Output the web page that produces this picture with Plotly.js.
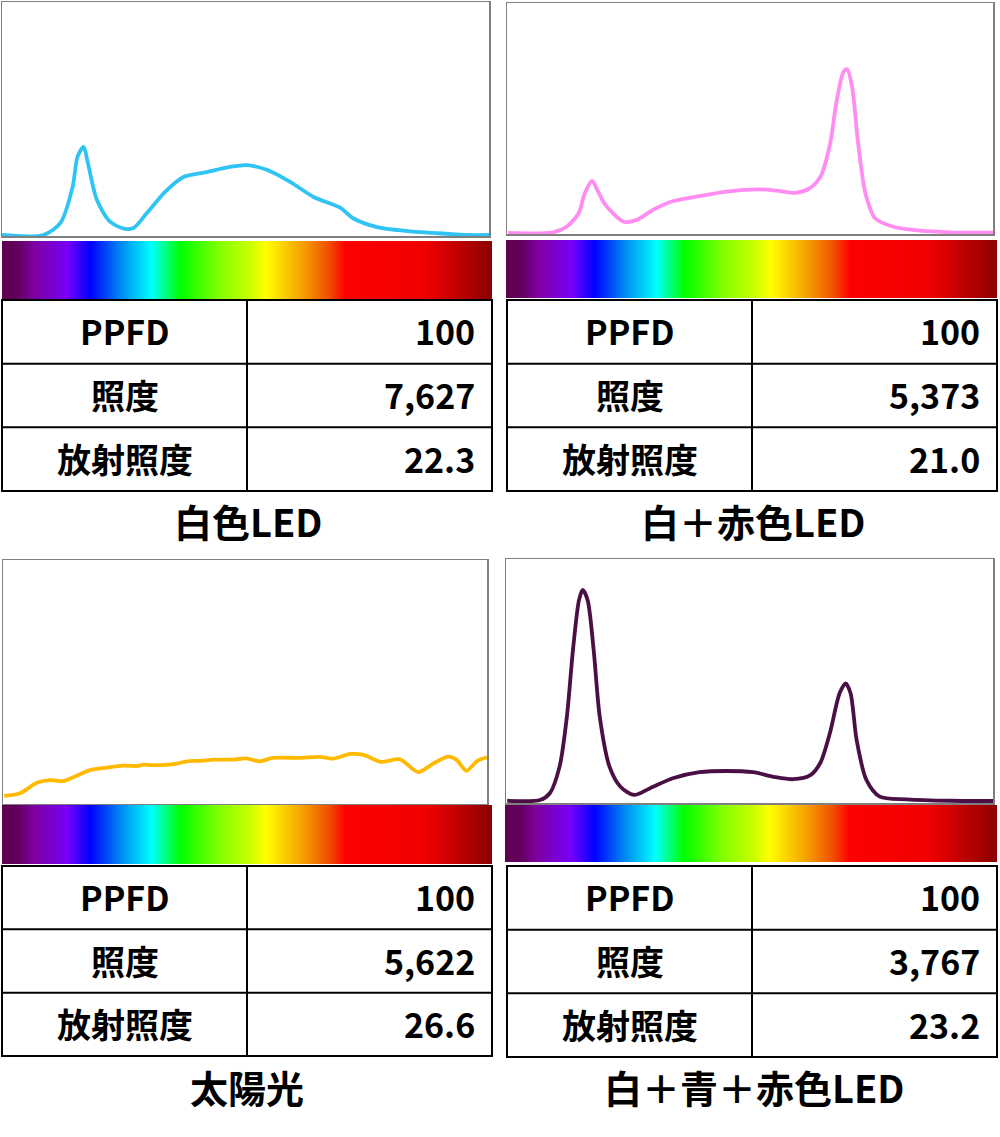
<!DOCTYPE html>
<html>
<head>
<meta charset="utf-8">
<script src="https://cdn.plot.ly/plotly-3.0.1.min.js"></script>
<style>
  html, body { margin: 0; padding: 0; background: #fff; }
  #chart { width: 1000px; height: 1137px; }
</style>
</head>
<body>
<div id="chart"></div>
<script>
// spectra (wavelength nm, relative intensity 0-100 of box height)
const wlWhite = [380, 414, 428, 438, 442, 447, 450, 458, 469, 481, 488, 499, 514, 529, 548, 567, 581, 598, 617, 636, 658, 668, 688, 713, 734, 762, 780];
const spWhite = [0, 0, 5.2, 20.6, 33.5, 37.8, 32.2, 15.0, 5.6, 2.6, 3.0, 9.4, 18.5, 24.9, 27.0, 29.2, 30.0, 27.9, 22.7, 16.3, 11.6, 7.3, 3.4, 1.7, 0.9, 0, 0];

const wlWhiteRed = [381, 418, 429, 439, 444, 450, 455, 461, 476, 487, 500, 517, 539, 561, 586, 602, 618, 629, 638, 646, 651, 657, 660, 664, 669, 675, 683, 698, 720, 745, 780];
const spWhiteRed = [0, 0.3, 2.7, 8.6, 17.3, 22.6, 18.0, 12.2, 4.9, 5.7, 10.0, 13.9, 16.1, 18.0, 19.0, 18.4, 17.5, 19.4, 24.5, 39.0, 56.4, 70.1, 71.2, 63.6, 39.0, 17.3, 6.4, 2.7, 1.0, 0.3, 0.1];

const wlSun = [381, 394, 408, 419, 430, 441, 452, 466, 479, 491, 496, 504, 521, 532, 543, 554, 570, 581, 592, 603, 625, 642, 653, 667, 678, 692, 708, 723, 736, 748, 755, 763, 772, 780];
const spSun = [3.3, 4.4, 8.7, 9.8, 9.4, 11.6, 13.9, 14.9, 15.7, 15.6, 16.1, 15.9, 16.3, 17.5, 17.7, 18.2, 18.2, 18.7, 17.5, 18.9, 18.9, 19.3, 18.6, 20.5, 20.1, 17.3, 18.3, 13.1, 16.7, 19.4, 18.0, 13.6, 17.7, 19.1];

const wlWhiteBlueRed = [381, 408, 416, 424, 430, 435, 440, 443, 447, 452, 457, 465, 474, 485, 498, 517, 539, 561, 583, 600, 616, 630, 638, 646, 654, 659, 663, 668, 676, 687, 709, 745, 780];
const spWhiteBlueRed = [0.1, 0.4, 3.2, 14.2, 34.8, 62.4, 83.1, 87.2, 83.1, 62.4, 34.8, 14.2, 5.9, 2.5, 5.2, 9.4, 11.9, 12.4, 11.9, 10.0, 9.0, 10.7, 15.6, 28.0, 44.5, 48.6, 44.5, 25.2, 8.7, 1.8, 0.7, 0.1, 0];

const lineColors = ["#2fc4f4", "#ff8cf0", "#ffb900", "#4a0f44"];

// table values
const rowLabels = ["PPFD", "照度", "放射照度"];
const ppfd = [100, 100, 100, 100];
const illuminance = [7627, 5373, 5622, 3767];
const irradiance = [22.3, 21.0, 26.6, 23.2];
const captions = ["白色LED", "白＋赤色LED", "太陽光", "白＋青＋赤色LED"];

// rainbow strip under each spectrum
const specNm = [380, 392, 405, 433, 452, 478, 502, 525, 556, 582, 595, 625, 646, 660, 725, 780];
const specColors = ["#5e0052", "#62005c", "#7e00a0", "#7800f8", "#0000ff", "#0090f0", "#00ffff", "#00ff00", "#80ff00", "#c8ff00", "#ffff00", "#f5a000", "#f05000", "#ff0000", "#f00000", "#8c0000"];

const W = 1000, H = 1137;
const px = v => v / W;
const py = v => 1 - v / H;

// panel geometry in pixels: box [x0,x1,yTop,yBottom], zero line y, bar, table
const panels = [
  {box: [2, 489, 2, 236], zero: 235, bar: [2, 492, 241, 299], table: [2, 492, 300, 491], cap: [248, 520]},
  {box: [507, 993, 3, 234], zero: 233, bar: [506, 997, 240, 298], table: [507, 997, 300, 491], cap: [753, 520]},
  {box: [3, 487, 560, 804], zero: 804, bar: [2, 492, 805, 864], table: [2, 492, 866, 1056], cap: [247, 1086]},
  {box: [506, 993, 559, 803], zero: 801, bar: [505, 997, 805, 862], table: [507, 997, 866, 1057], cap: [754, 1086]}
];
const wls = [wlWhite, wlWhiteRed, wlSun, wlWhiteBlueRed];
const sps = [spWhite, spWhiteRed, spSun, spWhiteBlueRed];

const cscale = specNm.map((n, i) => [(n - 380) / 400, specColors[i]]);
const cellFont = {family: "Noto Sans CJK JP", size: 34, color: "#000", weight: "bold"};

const data = [];
const layout = {
  width: W, height: H,
  margin: {l: 0, r: 0, t: 0, b: 0},
  paper_bgcolor: "#fff", plot_bgcolor: "#fff",
  showlegend: false,
  font: {family: "Noto Sans CJK JP", color: "#000"},
  annotations: [],
  shapes: []
};

panels.forEach((p, i) => {
  const n = 2 * i + 1, m = 2 * i + 2;
  const [x0, x1, yt, yb0] = p.box;
  const lowVal = -(yb0 - p.zero) / (p.zero - yt) * 100;

  layout["xaxis" + n] = {domain: [px(x0), px(x1)], range: [380, 780], anchor: "y" + n,
    showgrid: false, zeroline: false, showticklabels: false, ticks: "",
    showline: true, mirror: true, linecolor: "#7f7f7f", linewidth: 1.5, fixedrange: true};
  layout["yaxis" + n] = {domain: [py(yb0), py(yt)], range: [lowVal, 100], anchor: "x" + n,
    showgrid: false, zeroline: false, showticklabels: false, ticks: "",
    showline: true, mirror: true, linecolor: "#7f7f7f", linewidth: 1.5, fixedrange: true};

  layout["xaxis" + m] = {domain: [px(p.bar[0]), px(p.bar[1])], range: [380, 780], visible: false, anchor: "y" + m, fixedrange: true};
  layout["yaxis" + m] = {domain: [py(p.bar[3]), py(p.bar[2])], range: [-0.5, 0.5], visible: false, anchor: "x" + m, fixedrange: true};

  data.push({
    type: "heatmap", x: specNm, y: [0], z: [specNm], colorscale: cscale, zmin: 380, zmax: 780,
    zsmooth: "best", showscale: false, hoverinfo: "skip", xaxis: "x" + m, yaxis: "y" + m
  });

  data.push({
    type: "scatter", mode: "lines", x: wls[i], y: sps[i],
    line: {color: lineColors[i], width: 3.8, shape: "spline", smoothing: 0.8},
    xaxis: "x" + n, yaxis: "y" + n, hoverinfo: "skip"
  });

  // table: 3 rows x 2 columns, black 2px grid
  const [tx0, tx1, ty0, ty1] = p.table;
  const rowH = (ty1 - ty0) / 3;
  const mid = (tx0 + tx1) / 2;
  const border = {color: "#000", width: 2};
  layout.shapes.push({type: "rect", xref: "paper", yref: "paper",
    x0: px(tx0), x1: px(tx1), y0: py(ty1), y1: py(ty0), line: border, fillcolor: "rgba(0,0,0,0)"});
  layout.shapes.push({type: "line", xref: "paper", yref: "paper",
    x0: px(mid), x1: px(mid), y0: py(ty1), y1: py(ty0), line: border});
  [1, 2].forEach(r => layout.shapes.push({type: "line", xref: "paper", yref: "paper",
    x0: px(tx0), x1: px(tx1), y0: py(ty0 + r * rowH), y1: py(ty0 + r * rowH), line: border}));

  const values = [String(ppfd[i]), illuminance[i].toLocaleString("en-US"), irradiance[i].toFixed(1)];
  rowLabels.forEach((lab, r) => {
    const cy = ty0 + (r + 0.5) * rowH - 1;
    layout.annotations.push({xref: "paper", yref: "paper", x: px((tx0 + mid) / 2), y: py(cy),
      xanchor: "center", yanchor: "middle", showarrow: false, text: lab, font: cellFont});
    layout.annotations.push({xref: "paper", yref: "paper", x: px(tx1 - 15), y: py(cy),
      xanchor: "right", yanchor: "middle", showarrow: false, text: values[r], font: cellFont});
  });

  layout.annotations.push({
    xref: "paper", yref: "paper", x: px(p.cap[0]), y: py(p.cap[1]),
    xanchor: "center", yanchor: "middle", showarrow: false,
    text: captions[i],
    font: {family: "Noto Sans CJK JP", size: 38, color: "#000", weight: "bold"}
  });
});

Plotly.newPlot("chart", data, layout, {staticPlot: true});
</script>
</body>
</html>
